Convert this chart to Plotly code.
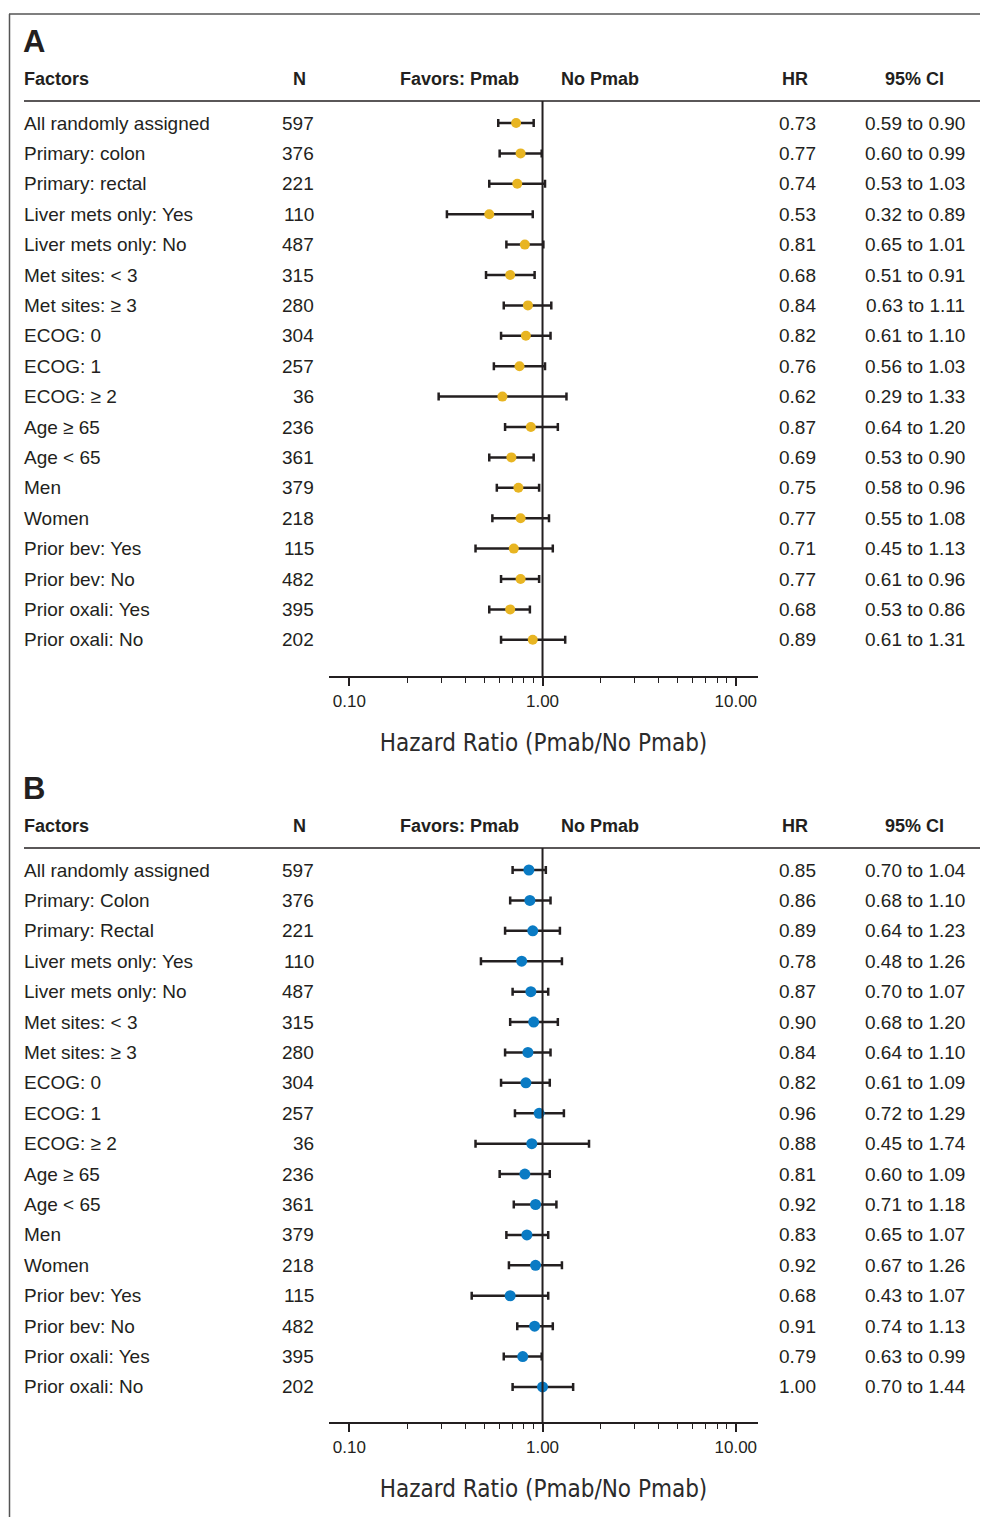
import plotly.graph_objects as go

# ---------------- data ----------------
factors_a = ["All randomly assigned", "Primary: colon", "Primary: rectal",
             "Liver mets only: Yes", "Liver mets only: No", "Met sites: < 3",
             "Met sites: ≥ 3", "ECOG: 0", "ECOG: 1", "ECOG: ≥ 2", "Age ≥ 65",
             "Age < 65", "Men", "Women", "Prior bev: Yes", "Prior bev: No",
             "Prior oxali: Yes", "Prior oxali: No"]
factors_b = ["All randomly assigned", "Primary: Colon", "Primary: Rectal",
             "Liver mets only: Yes", "Liver mets only: No", "Met sites: < 3",
             "Met sites: ≥ 3", "ECOG: 0", "ECOG: 1", "ECOG: ≥ 2", "Age ≥ 65",
             "Age < 65", "Men", "Women", "Prior bev: Yes", "Prior bev: No",
             "Prior oxali: Yes", "Prior oxali: No"]
n_vals = [597, 376, 221, 110, 487, 315, 280, 304, 257, 36, 236, 361, 379, 218,
          115, 482, 395, 202]

hr_a = [0.73, 0.77, 0.74, 0.53, 0.81, 0.68, 0.84, 0.82, 0.76, 0.62, 0.87, 0.69,
        0.75, 0.77, 0.71, 0.77, 0.68, 0.89]
lo_a = [0.59, 0.60, 0.53, 0.32, 0.65, 0.51, 0.63, 0.61, 0.56, 0.29, 0.64, 0.53,
        0.58, 0.55, 0.45, 0.61, 0.53, 0.61]
hi_a = [0.90, 0.99, 1.03, 0.89, 1.01, 0.91, 1.11, 1.10, 1.03, 1.33, 1.20, 0.90,
        0.96, 1.08, 1.13, 0.96, 0.86, 1.31]

hr_b = [0.85, 0.86, 0.89, 0.78, 0.87, 0.90, 0.84, 0.82, 0.96, 0.88, 0.81, 0.92,
        0.83, 0.92, 0.68, 0.91, 0.79, 1.00]
lo_b = [0.70, 0.68, 0.64, 0.48, 0.70, 0.68, 0.64, 0.61, 0.72, 0.45, 0.60, 0.71,
        0.65, 0.67, 0.43, 0.74, 0.63, 0.70]
hi_b = [1.04, 1.10, 1.23, 1.26, 1.07, 1.20, 1.10, 1.09, 1.29, 1.74, 1.09, 1.18,
        1.07, 1.26, 1.07, 1.13, 0.99, 1.44]

tick_vals = [0.1, 1, 10]
tick_text = ["0.10", "1.00", "10.00"]
minor_vals = [0.2, 0.3, 0.4, 0.5, 0.6, 0.7, 0.8, 0.9, 2, 3, 4, 5, 6, 7, 8, 9]
axis_title = "Hazard Ratio (Pmab/No Pmab)"

# ---------------- layout helpers ----------------
# the page body has an 8 px margin, so the figure is 8 px smaller and
# screen coordinates are shifted by 8 px
OFF = 8
W, H = 988 - OFF, 1517 - OFF
def px(x):
    return (x - OFF) / W
def py(y):
    return 1 - (y - OFF) / H

PAD = 2  # annotation inner padding compensation
def ax(x, anchor):
    if anchor == "left":
        return px(x - PAD)
    if anchor == "right":
        return px(x + PAD)
    return px(x)

TEXT = "#231f20"
BODY = dict(family="Liberation Sans, Arial, sans-serif", size=19, color=TEXT)
BOLD = dict(family="Liberation Sans, Arial, sans-serif", size=18, color=TEXT,
            weight="bold")
NARROW = dict(family="DejaVu Sans Condensed, Liberation Sans Narrow, sans-serif",
              size=24, color="#2b2b2b")

panels = [
    dict(letter="A", factors=factors_a, hr=hr_a, lo=lo_a, hi=hi_a,
         color="#E8B522", msize=10, xa="x", ya="y",
         first=123, step=30.4, head_line=101, axis_y=676),
    dict(letter="B", factors=factors_b, hr=hr_b, lo=lo_b, hi=hi_b,
         color="#0A7BC4", msize=11, xa="x2", ya="y2",
         first=870, step=30.41, head_line=848, axis_y=1422),
]

fig = go.Figure()
annotations = []
shapes = []
layout_axes = {}

for k, p in enumerate(panels):
    idx = list(range(len(p["factors"])))
    plus = [h - m for h, m in zip(p["hi"], p["hr"])]
    minus = [m - l for m, l in zip(p["hr"], p["lo"])]
    fig.add_trace(go.Scatter(
        x=p["hr"], y=idx, mode="markers", xaxis=p["xa"], yaxis=p["ya"],
        marker=dict(color=p["color"], size=p["msize"], line=dict(width=0)),
        error_x=dict(type="data", symmetric=False, array=plus, arrayminus=minus,
                     color="#231f20", thickness=2.5, width=4),
        showlegend=False, hoverinfo="x+y"))

    top_idx = (p["head_line"] - p["first"]) / p["step"]
    bot_idx = (p["axis_y"] - p["first"]) / p["step"]
    xname = "xaxis" if k == 0 else "xaxis2"
    yname = "yaxis" if k == 0 else "yaxis2"
    layout_axes[xname] = dict(
        type="log", range=[-1.105, 1.115], domain=[px(329), px(758)],
        anchor=p["ya"], showline=True, linecolor="#231f20", linewidth=2,
        showgrid=False, zeroline=False,
        tickmode="array", tickvals=tick_vals, ticktext=tick_text,
        ticks="outside", ticklen=8, tickwidth=1.5, tickcolor="#231f20",
        ticklabelstandoff=1,
        tickfont=dict(family="Liberation Sans, Arial, sans-serif", size=17, color=TEXT),
        minor=dict(tickmode="array", tickvals=minor_vals, ticks="outside",
                   ticklen=5, tickwidth=1.2, tickcolor="#231f20", showgrid=False),
        title=dict(text=axis_title, font=NARROW, standoff=24),
    )
    layout_axes[yname] = dict(
        range=[bot_idx, top_idx], domain=[py(p["axis_y"]), py(p["head_line"])],
        anchor=p["xa"], visible=False, showgrid=False, zeroline=False)

    # vertical reference line at HR = 1
    shapes.append(dict(type="line", xref=p["xa"], yref=p["ya"] + " domain",
                       x0=1, x1=1, y0=0, y1=1,
                       line=dict(color="#231f20", width=2)))
    # header rule
    shapes.append(dict(type="line", xref="paper", yref=p["ya"] + " domain",
                       x0=px(24), x1=px(985), y0=1, y1=1,
                       line=dict(color="#231f20", width=1.5)))

    # panel letter and header
    head_y = p["head_line"] - 22
    letter_y = p["head_line"] - 59
    annotations.append(dict(text="<b>%s</b>" % p["letter"], xref="paper", yref="paper",
                            x=ax(23, "left"), y=py(letter_y), xanchor="left",
                            yanchor="middle", showarrow=False,
                            font=dict(family="Liberation Sans, Arial, sans-serif",
                                      size=31, color=TEXT)))
    headers = [("Factors", 24, "left"), ("N", 299, "center"),
               ("Favors: Pmab", 519, "right"), ("No Pmab", 561, "left"),
               ("HR", 795, "center"), ("95% CI", 914, "center")]
    for txt, x, anc in headers:
        annotations.append(dict(text="<b>%s</b>" % txt, xref="paper", yref="paper",
                                x=ax(x, anc), y=py(head_y), xanchor=anc,
                                yanchor="middle", showarrow=False, font=BOLD))

    # table rows
    for i in idx:
        annotations.append(dict(text=p["factors"][i], xref="paper", yref=p["ya"],
                                x=ax(24, "left"), y=i, xanchor="left", yanchor="middle",
                                showarrow=False, font=BODY))
        annotations.append(dict(text=str(n_vals[i]), xref="paper", yref=p["ya"],
                                x=ax(314, "right"), y=i, xanchor="right",
                                yanchor="middle", showarrow=False, font=BODY))
        annotations.append(dict(text="%.2f" % p["hr"][i], xref="paper", yref=p["ya"],
                                x=px(797), y=i, xanchor="center", yanchor="middle",
                                showarrow=False, font=BODY))
        annotations.append(dict(text="%.2f to %.2f" % (p["lo"][i], p["hi"][i]),
                                xref="paper", yref=p["ya"],
                                x=px(915), y=i, xanchor="center", yanchor="middle",
                                showarrow=False, font=BODY))

# outer frame (top and left edges)
shapes.append(dict(type="line", xref="paper", yref="paper", x0=px(9), x1=1,
                   y0=py(14), y1=py(14), line=dict(color="#555555", width=1.5)))
shapes.append(dict(type="line", xref="paper", yref="paper", x0=px(9.5), x1=px(9.5),
                   y0=py(14), y1=0, line=dict(color="#555555", width=1.5)))

fig.update_layout(
    width=W, height=H, margin=dict(l=0, r=0, t=0, b=0),
    paper_bgcolor="white", plot_bgcolor="white",
    annotations=annotations, shapes=shapes, showlegend=False,
    **layout_axes)

fig.write_html("out.html")
